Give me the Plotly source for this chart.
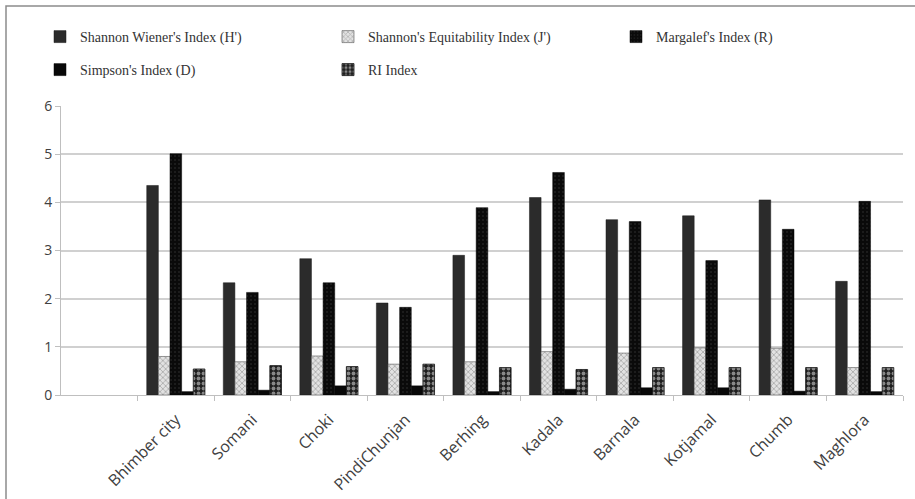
import plotly.graph_objects as go

# Diversity indices per site
sites = ["Bhimber city", "Somani", "Choki", "PindiChunjan", "Berhing",
         "Kadala", "Barnala", "Kotjamal", "Chumb", "Maghlora"]
shannon_h = [4.35, 2.33, 2.83, 1.91, 2.90, 4.10, 3.64, 3.72, 4.05, 2.36]
equitability_j = [0.80, 0.69, 0.81, 0.64, 0.69, 0.90, 0.87, 0.98, 0.97, 0.57]
margalef_r = [5.01, 2.13, 2.33, 1.82, 3.89, 4.62, 3.60, 2.79, 3.44, 4.02]
simpson_d = [0.07, 0.10, 0.19, 0.19, 0.07, 0.12, 0.15, 0.15, 0.08, 0.07]
ri_index = [0.54, 0.61, 0.59, 0.64, 0.57, 0.53, 0.57, 0.57, 0.57, 0.57]

series_names = ["Shannon Wiener's Index (H')", "Shannon's Equitability Index (J')",
                "Margalef's Index (R)", "Simpson's Index (D)", "RI Index"]

# plot-area geometry in pixels
W, H = 915, 499
L, R, T, B = 61, 903, 106, 395


def px_x(p):
    return (p - L) / (R - L)


def px_y(p):
    return (B - p) / (B - T)


fig = go.Figure()

styles = [
    dict(color="#2b2b2b", line=dict(color="#1a1a1a", width=0.5)),
    dict(color="#dcdcdc",
         pattern=dict(shape="x", fgcolor="#7a7a7a", bgcolor="#e2e2e2", size=4, solidity=0.4),
         line=dict(color="#555555", width=0.6)),
    dict(color="#0d0d0d",
         pattern=dict(shape=".", fgcolor="#3a3a3a", bgcolor="#0a0a0a", size=4, solidity=0.2),
         line=dict(color="#000000", width=0.5)),
    dict(color="#080808", line=dict(color="#000000", width=0.5)),
    dict(color="#222222",
         pattern=dict(shape=".", fgcolor="#f2f2f2", bgcolor="#1e1e1e", size=5, solidity=0.45),
         line=dict(color="#111111", width=0.8)),
]
values = [shannon_h, equitability_j, margalef_r, simpson_d, ri_index]
legend_ids = ["legend", "legend", "legend", "legend2", "legend2"]

for name, vals, st, lg in zip(series_names, values, styles, legend_ids):
    fig.add_trace(go.Bar(x=sites, y=vals, name=name, marker=st, legend=lg))

legend_font = dict(family="Liberation Serif, DejaVu Serif, serif", size=14, color="#333333")
legend_common = dict(orientation="h", xanchor="left", yanchor="middle",
                     bgcolor="rgba(0,0,0,0)", font=legend_font,
                     entrywidth=243, entrywidthmode="pixels",
                     itemwidth=30, traceorder="normal")

fig.update_layout(
    width=W, height=H,
    margin=dict(l=L, r=W - R, t=T, b=H - B),
    paper_bgcolor="white", plot_bgcolor="white",
    barmode="group", bargap=0.24, bargroupgap=0,
    legend=dict(x=px_x(40), y=px_y(37), **legend_common),
    legend2=dict(x=px_x(40), y=px_y(70), **legend_common),
    xaxis=dict(
        type="category", range=[-1.5, 9.5], automargin=False,
        tickson="boundaries", ticks="outside", ticklen=5, tickcolor="#bfbfbf",
        showline=True, linecolor="#bfbfbf", linewidth=1,
        tickangle=-45, ticklabelstandoff=8,
        tickfont=dict(family="Open Sans, Liberation Sans, sans-serif", size=16, color="#404040"),
        showgrid=False,
    ),
    yaxis=dict(
        range=[0, 6], dtick=1, automargin=False,
        showgrid=True, gridcolor="#d0d0d0", gridwidth=1.5,
        showline=True, linecolor="#bfbfbf", linewidth=1,
        ticks="outside", ticklen=5, tickcolor="#bfbfbf",
        tickfont=dict(family="Open Sans, Liberation Sans, sans-serif", size=14, color="#404040"),
        zeroline=False,
    ),
    shapes=[dict(type="rect", xref="paper", yref="paper",
                 x0=px_x(6), x1=px_x(930), y0=px_y(520), y1=px_y(6),
                 line=dict(color="#8c8c8c", width=1.5), fillcolor="rgba(0,0,0,0)", layer="below")],
)

fig.write_html("out.html")
